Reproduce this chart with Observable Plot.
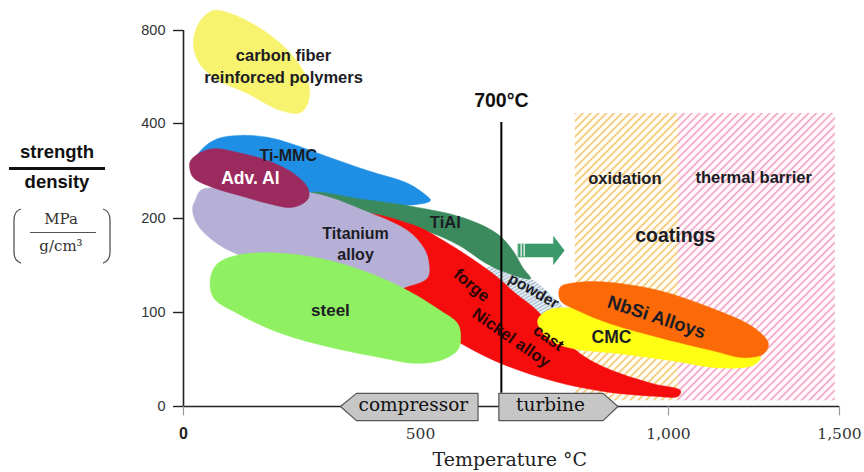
<!DOCTYPE html>
<html>
<head>
<meta charset="utf-8">
<script src="https://cdn.jsdelivr.net/npm/d3@7"></script>
<script src="https://cdn.jsdelivr.net/npm/@observablehq/plot@0.6"></script>
<style>
  html, body { margin: 0; padding: 0; background: #fff; }
  #wrap { position: relative; width: 864px; height: 472px; overflow: hidden; }
  #chart { position: absolute; left: 0; top: 0; }
  .lbl { position: absolute; text-align: center; width: 114px; left: 0; color: #111; }
</style>
</head>
<body>
<div id="wrap">
  <div id="chart"></div>
  <div class="lbl" style="top:141px;font:bold 18.5px 'Liberation Sans',Arial,sans-serif;">strength</div>
  <div style="position:absolute;left:9px;top:167px;width:96px;height:2.5px;background:#111;"></div>
  <div class="lbl" style="top:171px;font:bold 18.5px 'Liberation Sans',Arial,sans-serif;">density</div>
  <div class="lbl" style="top:210px;left:4px;font:15px 'DejaVu Serif',serif;color:#333;">MPa</div>
  <div style="position:absolute;left:30px;top:232px;width:66px;height:1px;background:#555;"></div>
  <div class="lbl" style="top:237px;left:4px;font:15px 'DejaVu Serif',serif;color:#333;">g/cm³</div>
  <svg style="position:absolute;left:0;top:0" width="130" height="280">
    <path d="M21,209 Q14,211 14,220 L14,252 Q14,261 21,263" fill="none" stroke="#555" stroke-width="1.3"/>
    <path d="M103,209 Q110,211 110,220 L110,252 Q110,261 103,263" fill="none" stroke="#555" stroke-width="1.3"/>
  </svg>
</div>
<script>
// ---- axis breakpoints (temperature °C, strength/density) ----
const xDomain = [0, 500, 1000, 1500];
const yDomain = [0, 100, 200, 400, 800];

// ---- axis ticks ----
const xTicks = [0, 500, 1000, 1500];
const xTickLabels = ["0", "500", "1,000", "1,500"];
const xTickMarks = [0, 1000, 1500];
const yTicks = [0, 100, 200, 400, 800];

// ---- material regions (outline points: temperature, strength/density) ----
const carbonFiber = [[21,757],[36,843],[63,886],[99,873],[169,800],[226,701],[262,585],[264,499],[247,447],[205,456],[135,529],[63,598],[30,671]];
const tiMMC = [[42,349],[72,368],[120,375],[177,371],[226,358],[310,328],[388,301],[473,274],[506,253],[520,238],[458,227],[310,238],[141,259],[36,280],[19,312]];
const powder = [[635,148],[722,136],[768,116],[788,104],[756,95],[702,105],[655,123],[627,137]];
const tiAl = [[268,253],[380,240],[485,225],[585,202],[654,184],[686,166],[706,148],[722,136],[670,143],[630,153],[579,171],[520,185],[458,193],[373,206],[289,221]];
const nickel = [[373,208],[485,193],[554,174],[607,156],[654,138],[690,121],[731,104],[772,81],[806,63],[843,49],[903,35],[970,24],[1035,17],[1029,11],[970,11],[869,16],[768,27],[666,45],[599,62],[540,81],[458,123],[416,155],[384,182]];
const titanium = [[25,238],[36,259],[63,265],[274,253],[380,217],[473,187],[506,169],[516,155],[514,137],[469,127],[452,123],[310,129],[162,153],[78,171],[30,193],[19,221]];
const advAl = [[15,322],[36,339],[63,347],[114,339],[177,322],[232,295],[262,265],[264,244],[253,232],[226,223],[177,232],[120,248],[63,265],[21,286],[13,307]];
const steel = [[57,137],[72,152],[114,161],[205,163],[310,155],[416,137],[485,120],[540,102],[575,88],[581,73],[575,60],[540,49],[485,46],[416,52],[310,63],[205,78],[114,99],[63,116]];
const cmc = [[736,91],[756,102],[796,105],[903,95],[1056,73],[1202,60],[1269,52],[1248,44],[1152,41],[1006,49],[903,56],[796,63],[756,73]];
const nbsi = [[782,127],[817,132],[883,132],[984,123],[1123,105],[1249,84],[1292,67],[1278,56],[1219,52],[1123,60],[984,73],[883,88],[817,102],[782,113]];

// ---- coating zones ----
const zoneNames = ["oxidation", "thermal barrier"];
const zoneStart = [812, 1029];
const zoneEnd = [1029, 1488];
const zoneLow = [6, 6];
const zoneHigh = [443, 443];

// ---- annotations ----
const arrowShape = [[697,173],[768,173],[768,181],[790,166],[768,151],[768,159],[697,159]];
const compressorShape = [[331,0],[365,14],[616,14],[616,-15],[365,-15]];
const turbineShape = [[658,14],[868,14],[898,0],[868,-15],[658,-15]];
const limitTemp = [663];

const blobShapes = [carbonFiber, tiMMC, powder, tiAl, nickel, titanium, advAl, steel, cmc, nbsi];
const blobColors = ["#f7f36e","#1f8fe5","url(#hatchPowder)","#3b8a5e","#f50c0c","#b6b0d6","#9b2a5f","#8ff062","#ffff14","#fb6a07"];

const labelText = ["carbon fiber","reinforced polymers","Ti-MMC","Titanium","alloy","TiAl","steel","powder","NbSi Alloys","CMC","oxidation","thermal barrier","coatings"];
const labelT = [211,211,221,363,363,550,310,728,976,885,912,1249,1020];
const labelS = [692,598,331,184,161,195,102,123,95,73,284,286,182];
const labelAngle = [0,0,0,0,0,0,0,30,18,0,0,0,0];
const labelSize = [16.5,16.5,16,16,16,16.5,17,15.5,18.5,17.5,16.5,16.5,19.5];

const nickelText = ["forge","Nickel alloy","cast"];
const nickelT = [603,683,758];
const nickelS = [129,73,73];
const nickelAngle = [40,35,35];

// broken (piecewise) axes: map values to axis units, then Plot's linear scales
const xw = d3.scaleLinear().domain(xDomain).range([0, 237, 485, 656]);
const yw = d3.scaleLinear().domain(yDomain).range([0, 94, 188, 283, 376]);
const X = v => xw(v), Y = v => yw(v);

const sans = "'Liberation Sans', Arial, sans-serif";
const serif = "'DejaVu Serif', serif";

const marks = [];
marks.push(Plot.rect(zoneNames, {x1: (d,i)=>X(zoneStart[i]), x2: (d,i)=>X(zoneEnd[i]), y1: (d,i)=>Y(zoneLow[i]), y2: (d,i)=>Y(zoneHigh[i]),
  fill: (d,i)=> i===0 ? "url(#hatchOx)" : "url(#hatchTb)"}));
marks.push(Plot.ruleY([0], {y: d=>Y(d), x1: X(0), x2: X(1500), stroke: "#222", strokeWidth: 1.6}));
marks.push(Plot.ruleX([0], {x: d=>X(d), y1: Y(0), y2: Y(800), stroke: "#222", strokeWidth: 1.6}));
blobShapes.forEach((pts, k) => {
  marks.push(Plot.line(pts, {x: d=>X(d[0]), y: d=>Y(d[1]), curve: "catmull-rom-closed",
    fill: blobColors[k], stroke: k===2 ? "none" : blobColors[k], strokeWidth: 0.5}));
});
marks.push(Plot.line(arrowShape, {x: d=>X(d[0]), y: d=>Y(d[1]), curve: "linear-closed", fill: "#3a9a6a", stroke: "#3a9a6a", strokeWidth: 0.5}));
marks.push(Plot.ruleX([703, 709], {x: d=>X(d), y1: Y(159), y2: Y(173), stroke: "#e8f5ee", strokeWidth: 1.4}));
marks.push(Plot.ruleX(limitTemp, {x: d=>X(d), y1: Y(14), y2: Y(404), stroke: "#000", strokeWidth: 2}));
marks.push(Plot.text(["700°C"], {x: X(limitTemp[0]), y: Y(499), fontSize: 19.5, fontWeight: "bold", fontFamily: sans, fill: "#111"}));
marks.push(Plot.line(compressorShape, {x: d=>X(d[0]), y: d=>Y(d[1]), curve: "linear-closed", fill: "#c6c6c6", stroke: "#555", strokeWidth: 1.2}));
marks.push(Plot.line(turbineShape, {x: d=>X(d[0]), y: d=>Y(d[1]), curve: "linear-closed", fill: "#c6c6c6", stroke: "#555", strokeWidth: 1.2}));
marks.push(Plot.text(["compressor"], {x: X(485), y: Y(1), fontSize: 18.5, fontFamily: serif, fill: "#111"}));
marks.push(Plot.text(["turbine"], {x: X(762), y: Y(1), fontSize: 18.5, fontFamily: serif, fill: "#111"}));
marks.push(Plot.ruleY(yTicks, {y: d=>Y(d), x1: X(-21), x2: X(0), stroke: "#222", strokeWidth: 1.4}));
marks.push(Plot.text(yTicks, {y: d=>Y(d), x: X(-38), text: d=>String(d), textAnchor: "end", fontSize: 14.5, fontFamily: sans, fill: "#333"}));
marks.push(Plot.ruleX(xTickMarks, {x: d=>X(d), y1: Y(0), y2: Y(-10), stroke: "#999", strokeWidth: 1.2}));
marks.push(Plot.text(xTickLabels.slice(0, 1), {x: X(xTicks[0]), y: Y(-29), fontSize: 16, fontWeight: "bold", fontFamily: sans, fill: "#222"}));
marks.push(Plot.text(xTickLabels.slice(1), {x: (d,i)=>X(xTicks[i + 1]), y: Y(-29), fontSize: 15.5, fontFamily: serif, fill: "#333"}));
marks.push(Plot.text(["Temperature °C"], {x: X(680), y: Y(-57), fontSize: 19, fontFamily: serif, fill: "#222"}));
marks.push(Plot.text(labelText, {x: (d,i)=>X(labelT[i]), y: (d,i)=>Y(labelS[i]), rotate: (d,i)=>labelAngle[i],
  fontSize: (d,i)=>labelSize[i], fontWeight: "bold", fontFamily: sans, fill: "#1c1c24"}));
marks.push(Plot.text(nickelText, {x: (d,i)=>X(nickelT[i]), y: (d,i)=>Y(nickelS[i]), rotate: (d,i)=>nickelAngle[i],
  fontSize: 16.5, fontWeight: "bold", fontFamily: sans, fill: "#2a0606"}));
marks.push(Plot.text(["Adv. Al"], {x: X(141), y: Y(284), fontSize: 17.5, fontWeight: "bold", fontFamily: sans, fill: "#fff"}));

const chart = Plot.plot({
  width: 864, height: 472,
  marginLeft: 183, marginRight: 25, marginTop: 30, marginBottom: 66,
  x: {type: "linear", domain: [0, 656], range: [183, 839], axis: null},
  y: {type: "linear", domain: [0, 376], range: [406, 30], axis: null},
  style: {background: "transparent", overflow: "visible"},
  marks
});

const svgEl = chart.tagName.toLowerCase() === "svg" ? chart : chart.querySelector("svg");
const defs = d3.select(svgEl).insert("defs", ":first-child");
function hatch(id, color, bg, size, w, angle) {
  const p = defs.append("pattern").attr("id", id).attr("patternUnits", "userSpaceOnUse")
    .attr("width", size).attr("height", size).attr("patternTransform", `rotate(${angle})`);
  p.append("rect").attr("width", size).attr("height", size).attr("fill", bg);
  p.append("line").attr("x1", size/2).attr("y1", 0).attr("x2", size/2).attr("y2", size)
    .attr("stroke", color).attr("stroke-width", w);
}
hatch("hatchOx", "#f4c670", "#fffdf6", 5.5, 1.6, 45);
hatch("hatchTb", "#f096bc", "#fff9fb", 5.5, 1.4, 45);
hatch("hatchPowder", "#9db6cc", "#e4ecf2", 3, 1, 60);

document.getElementById("chart").appendChild(chart);
</script>
</body>
</html>
